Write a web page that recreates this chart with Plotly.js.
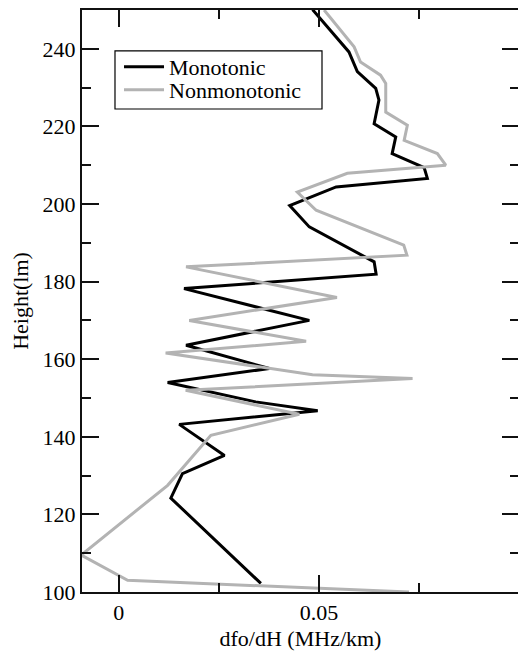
<!DOCTYPE html>
<html>
<head>
<meta charset="utf-8">
<script src="https://cdn.plot.ly/plotly-3.0.1.min.js"></script>
<style>
html,body{margin:0;padding:0;overflow:hidden;background:#fff;}
#chart{width:520px;height:651px;}
</style>
</head>
<body>
<div id="chart"></div>
<script>
// Monotonic profile (dfo/dH, MHz/km) vs height
const monoX = [0.0355, 0.0130, 0.0159, 0.0264, 0.0151, 0.0497, 0.0342, 0.0122, 0.0376, 0.0168, 0.0476, 0.0163, 0.0643, 0.0638, 0.0476, 0.0427, 0.0543, 0.0771, 0.0763, 0.0683, 0.0692, 0.0638, 0.0650, 0.0642, 0.0596, 0.0575, 0.0484];
const monoY = [102.2, 124.2, 130.5, 135.2, 143.2, 146.7, 149.0, 154.0, 157.6, 163.6, 170.0, 178.2, 181.9, 185.1, 194.1, 199.6, 204.4, 206.6, 209.4, 213.0, 217.3, 220.7, 226.8, 229.8, 234.1, 239.2, 250.1];

// Nonmonotonic profile
const nonX = [0.0725, 0.0022, -0.0094, 0.0122, 0.0230, 0.0451, 0.0167, 0.0734, 0.0484, 0.0117, 0.0468, 0.0176, 0.0545, 0.0168, 0.0720, 0.0712, 0.0493, 0.0446, 0.0571, 0.0817, 0.0796, 0.0713, 0.0721, 0.0667, 0.0667, 0.0654, 0.0604, 0.0588, 0.0513];
const nonY = [100.0, 103.0, 109.5, 127.5, 140.4, 145.8, 152.0, 155.0, 156.0, 161.6, 164.6, 170.0, 175.9, 183.8, 186.8, 189.4, 198.4, 203.1, 207.9, 210.0, 213.0, 216.4, 220.3, 223.7, 231.1, 233.2, 236.6, 240.5, 250.0];

const seriesNames = ['Monotonic', 'Nonmonotonic'];
const xTickVals = [0, 0.05];
const xTickText = ['0', '0.05'];

const FONT = 'Liberation Serif, Times New Roman, serif';

const traces = [
  {x: monoX, y: monoY, mode: 'lines', name: seriesNames[0], legend: 'legend',
   line: {color: '#000000', width: 3}},
  {x: nonX, y: nonY, mode: 'lines', name: seriesNames[1], legend: 'legend2',
   line: {color: '#b3b3b3', width: 3}}
];

const axisCommon = {
  showgrid: false, zeroline: false, showline: true, linecolor: '#111', linewidth: 2,
  mirror: 'ticks', ticks: 'inside', ticklen: 17, tickwidth: 2, tickcolor: '#111',
  tickfont: {family: FONT, size: 22, color: '#000'}
};

const legendCommon = {
  xanchor: 'left', yanchor: 'middle', borderwidth: 0,
  bgcolor: 'rgba(0,0,0,0)', itemwidth: 40,
  font: {family: FONT, size: 22, color: '#000'}
};

const layout = {
  width: 520, height: 651,
  margin: {l: 82, r: 1, t: 10, b: 59},
  paper_bgcolor: '#fff', plot_bgcolor: '#fff',
  font: {family: FONT, size: 22, color: '#000'},
  showlegend: true,
  legend: Object.assign({}, legendCommon, {x: 0.0847, y: 0.9020}),
  legend2: Object.assign({}, legendCommon, {x: 0.0847, y: 0.8626}),
  shapes: [{type: 'rect', xref: 'paper', yref: 'paper',
            x0: 0.0755, x1: 0.5492, y0: 0.8299, y1: 0.9296,
            line: {color: '#000', width: 1.2}, fillcolor: 'rgba(0,0,0,0)', layer: 'above'}],
  xaxis: Object.assign({}, axisCommon, {
    range: [-0.0092, 0.1],
    tickmode: 'array', tickvals: xTickVals, ticktext: xTickText,
    minor: {dtick: 0.025, tick0: 0, ticks: 'inside', ticklen: 9, tickwidth: 2, tickcolor: '#111'},
    title: {text: 'dfo/dH (MHz/km)', font: {family: FONT, size: 22, color: '#000'}, standoff: 7}
  }),
  yaxis: Object.assign({}, axisCommon, {
    range: [100, 250],
    tickmode: 'linear', tick0: 0, dtick: 20,
    minor: {dtick: 10, tick0: 0, ticks: 'inside', ticklen: 9, tickwidth: 2, tickcolor: '#111'},
    title: {text: 'Height(lm)', font: {family: FONT, size: 22, color: '#000'}, standoff: 8}
  })
};

Plotly.newPlot('chart', traces, layout, {displayModeBar: false, staticPlot: true});
</script>
</body>
</html>
